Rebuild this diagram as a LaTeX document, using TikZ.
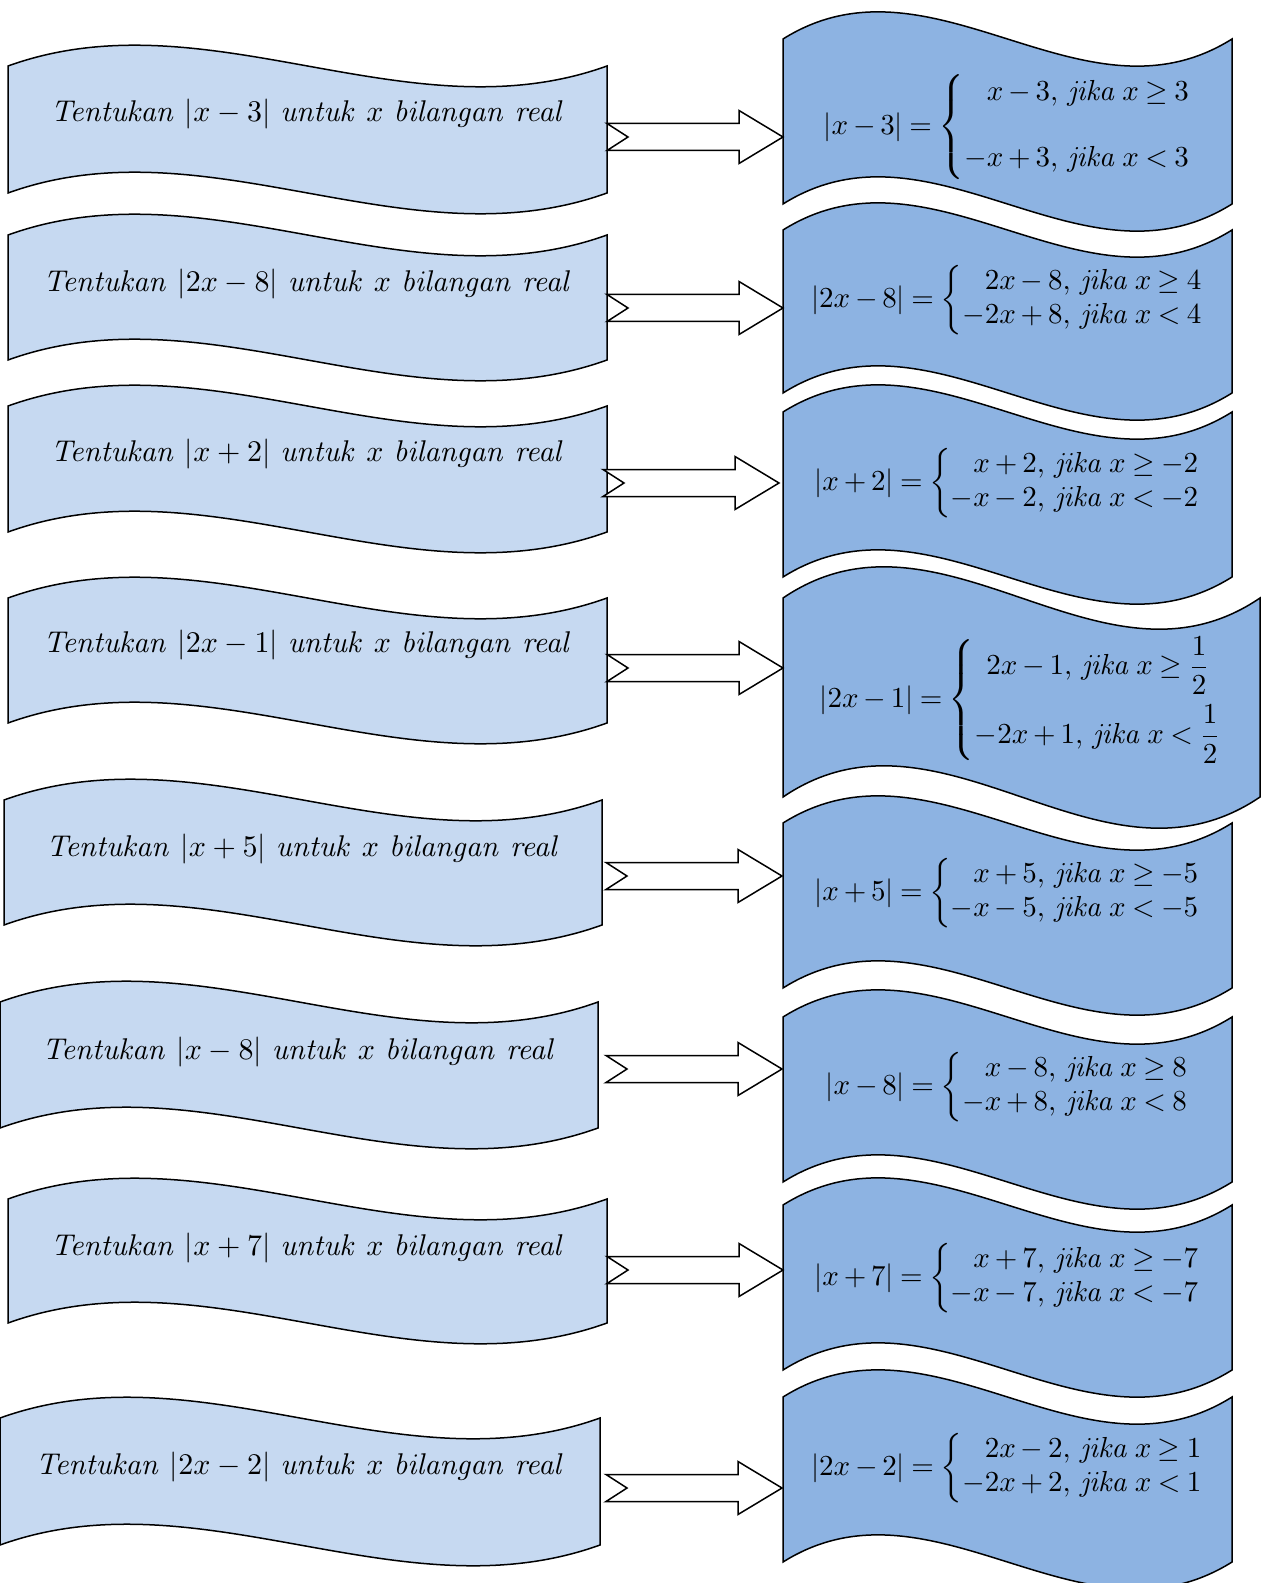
\documentclass[tikz,border=0pt]{standalone}
\usepackage{amsmath}
\definecolor{lblue}{HTML}{C6D9F1}
\definecolor{rblue}{HTML}{8DB3E2}
\tikzset{
  wavel/.style={fill=lblue,draw=black,line width=0.75pt},
  waver/.style={fill=rblue,draw=black,line width=0.75pt},
  blockarrow/.style={fill=white,draw=black,line width=0.75pt,line join=miter},
  ltext/.style={font=\fontsize{10}{11.67}\selectfont,inner sep=0pt,scale=1.5},
  rtext/.style={font=\fontsize{10}{11.67}\selectfont,inner sep=0pt,scale=1.45},
}
% style, L, R, yT, yB, d
\newcommand\wavebox[6]{%
  \path[#1] (#2,#4) .. controls ({#2+(#3-#2)/3},{#4-#6}) and ({#2+2*(#3-#2)/3},{#4+#6}) .. (#3,#4)
    -- (#3,#5) .. controls ({#2+2*(#3-#2)/3},{#5+#6}) and ({#2+(#3-#2)/3},{#5-#6}) .. (#2,#5) -- cycle;}
\newcommand\blockarr[1]{%
  \path[blockarrow,shift={(#1)}] (0,-13.5) -- (132,-13.5) -- (132,-26.5) -- (176,0)
    -- (132,26.5) -- (132,13.5) -- (0,13.5) -- (21,0) -- cycle;}
\newcommand\tw[1]{\mathit{#1}}
\newcommand\jk{,\,\mathit{jika}\;x}
\newcommand\tightmu{\medmuskip=3mu\relax\thickmuskip=4mu\relax}
\begin{document}
\begin{tikzpicture}[x=0.5pt,y=-0.5pt]
\useasboundingbox (0,0) rectangle (1272,1583);
% left boxes
\wavebox{wavel}{8}{607}{66}{193}{72}
\wavebox{wavel}{8}{607}{235}{360}{72}
\wavebox{wavel}{8}{607}{406}{532}{72}
\wavebox{wavel}{8}{607}{598}{723}{72}
\wavebox{wavel}{4}{602}{800}{925}{72}
\wavebox{wavel}{0}{598}{1002}{1128}{72}
\wavebox{wavel}{8}{607}{1199}{1323}{72}
\wavebox{wavel}{0}{600}{1418}{1545}{72}
% right boxes
\wavebox{waver}{783}{1232}{39}{204}{94}
\wavebox{waver}{783}{1232}{230}{393}{94}
\wavebox{waver}{783}{1232}{412}{577}{94}
\wavebox{waver}{783}{1260}{598}{797}{108}
\wavebox{waver}{783}{1232}{823}{988}{94}
\wavebox{waver}{783}{1232}{1017}{1182}{94}
\wavebox{waver}{783}{1232}{1205}{1370}{94}
\wavebox{waver}{783}{1232}{1397}{1562}{94}
% left texts
\node[ltext] (q1) at (307.5,114) {$\tw{Tentukan}\ |x-3|\ \tw{untuk}\ x\ \tw{bilangan}\ \tw{real}$};
\node[ltext] (q2) at (307.5,284) {$\tw{Tentukan}\ |2x-8|\ \tw{untuk}\ x\ \tw{bilangan}\ \tw{real}$};
\node[ltext] (q3) at (307.5,454) {$\tw{Tentukan}\ |x+2|\ \tw{untuk}\ x\ \tw{bilangan}\ \tw{real}$};
\node[ltext] (q4) at (307.5,645) {$\tw{Tentukan}\ |2x-1|\ \tw{untuk}\ x\ \tw{bilangan}\ \tw{real}$};
\node[ltext] (q5) at (303,849) {$\tw{Tentukan}\ |x+5|\ \tw{untuk}\ x\ \tw{bilangan}\ \tw{real}$};
\node[ltext] (q6) at (299,1052) {$\tw{Tentukan}\ |x-8|\ \tw{untuk}\ x\ \tw{bilangan}\ \tw{real}$};
\node[ltext] (q7) at (307.5,1248) {$\tw{Tentukan}\ |x+7|\ \tw{untuk}\ x\ \tw{bilangan}\ \tw{real}$};
\node[ltext] (q8) at (300,1467) {$\tw{Tentukan}\ |2x-2|\ \tw{untuk}\ x\ \tw{bilangan}\ \tw{real}$};
% right texts
\node[rtext] (a1) at (1008,127) {$\tightmu|x-3|=\left\{\begin{array}{@{}l@{}}\hphantom{-}x-3\jk\geq 3\\[11pt]-x+3\jk<3\end{array}\right.$};
\node[rtext] (a2) at (1008,300) {$\tightmu|2x-8|=\left\{\begin{array}{@{}l@{}}\hphantom{-}2x-8\jk\geq 4\\-2x+8\jk<4\end{array}\right.$};
\node[rtext] (a3) at (1008,483) {$\tightmu|x+2|=\left\{\begin{array}{@{}l@{}}\hphantom{-}x+2\jk\geq -2\\-x-2\jk<-2\end{array}\right.$};
\node[rtext] (a4) at (1022,700) {$\tightmu|2x-1|=\left\{\begin{array}{@{}l@{}}\hspace{0.4em}2x-1\jk\geq \dfrac{1}{2}\\[7pt]-2x+1\jk<\dfrac{1}{2}\end{array}\right.$};
\node[rtext] (a5) at (1008,893) {$\tightmu|x+5|=\left\{\begin{array}{@{}l@{}}\hphantom{-}x+5\jk\geq -5\\-x-5\jk<-5\end{array}\right.$};
\node[rtext] (a6) at (1008,1087) {$\tightmu|x-8|=\left\{\begin{array}{@{}l@{}}\hphantom{-}x-8\jk\geq 8\\-x+8\jk<8\end{array}\right.$};
\node[rtext] (a7) at (1008,1278) {$\tightmu|x+7|=\left\{\begin{array}{@{}l@{}}\hphantom{-}x+7\jk\geq -7\\-x-7\jk<-7\end{array}\right.$};
\node[rtext] (a8) at (1008,1468) {$\tightmu|2x-2|=\left\{\begin{array}{@{}l@{}}\hphantom{-}2x-2\jk\geq 1\\-2x+2\jk<1\end{array}\right.$};
% arrows
\coordinate (s1) at (607,137);
\coordinate (s2) at (607,308);
\coordinate (s3) at (603,483);
\coordinate (s4) at (607,668);
\coordinate (s5) at (606,876);
\coordinate (s6) at (606,1069);
\coordinate (s7) at (607,1270);
\coordinate (s8) at (606,1488);
\blockarr{s1}
\blockarr{s2}
\blockarr{s3}
\blockarr{s4}
\blockarr{s5}
\blockarr{s6}
\blockarr{s7}
\blockarr{s8}
\end{tikzpicture}
\end{document}
